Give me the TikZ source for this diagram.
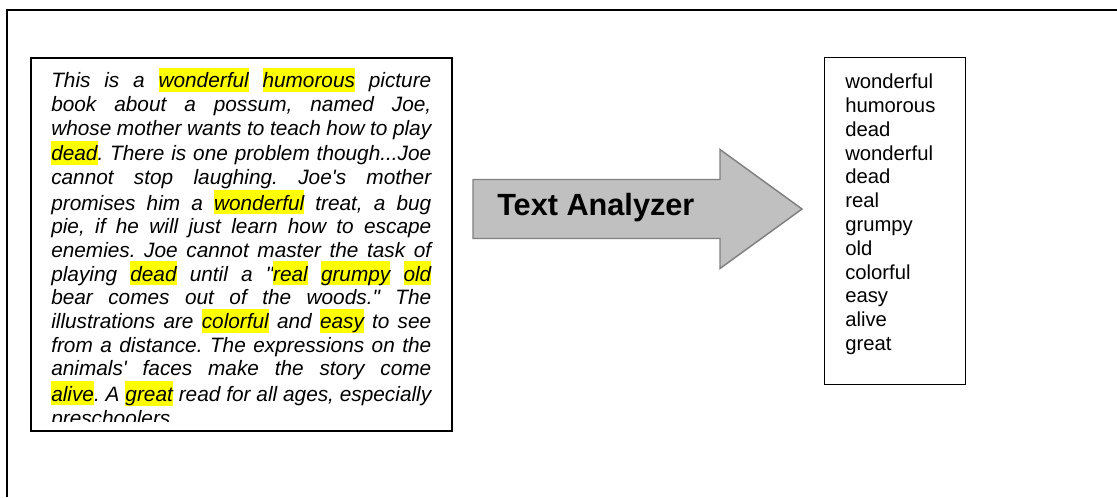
\documentclass[tikz,border=0pt]{standalone}
\usepackage{fontspec}
\setmainfont{Liberation Sans}[Ligatures=TeXOff]
\usepackage{xcolor}

\definecolor{hlyellow}{HTML}{FFFF00}
\definecolor{analyzerfill}{HTML}{C0C0C0}
\definecolor{analyzerline}{HTML}{808080}
\newcommand{\hl}[1]{{\setlength{\fboxsep}{0pt}\colorbox{hlyellow}{\rule[-3pt]{0pt}{18pt}#1}}}
\frenchspacing
\lineskiplimit=-6pt

\begin{document}
\begin{tikzpicture}[
    x=0.75pt, y=-0.75pt,
    panel/.style={rectangle, draw, line width=1.2pt, inner sep=0pt},
    review/.style={inner sep=0pt, text width=285pt, align=justify, font=\fontsize{15.6}{17.75}\selectfont\itshape},
    wordlist/.style={inner sep=0pt, align=left, font=\fontsize{15.2}{17.85}\selectfont},
    analyzerarrow/.style={fill=analyzerfill, draw=analyzerline, line width=1.1pt}
]
\useasboundingbox (0,0) rectangle (1117,497);

% outer frame
\draw[line width=1.5pt] (6.5,497) -- (6.5,10) -- (1117,10);

% review box
\node[panel, minimum width=315.75pt, minimum height=279.75pt] (reviewbox) at (241.5,244.5) {};
\begin{scope}
    \clip (31,58) rectangle (452,421);
    \node[review, anchor=north west] (reviewtext) at (51,67.6) {
        This is a \hl{wonderful} \hl{humorous} picture\linebreak
        book about a possum, named Joe,\linebreak
        whose mother wants to teach how to play\linebreak
        \hl{dead}. There is one problem though...Joe\linebreak
        cannot stop laughing. Joe's mother\linebreak
        promises him a \hl{wonderful} treat, a bug\linebreak
        pie, if he will just learn how to escape\linebreak
        enemies. Joe cannot master the task of\linebreak
        playing \hl{dead} until a "\hl{real} \hl{grumpy} \hl{old}\linebreak
        bear comes out of the woods." The\linebreak
        illustrations are \hl{colorful} and \hl{easy} to see\linebreak
        from a distance. The expressions on the\linebreak
        animals' faces make the story come\linebreak
        \hl{alive}. A \hl{great} read for all ages, especially\linebreak
        preschoolers.
    };
\end{scope}

% analyzer arrow
\filldraw[analyzerarrow] (473,179.5) -- (720,179.5) -- (720,149.5) -- (802,209)
    -- (720,268.5) -- (720,238.5) -- (473,238.5) -- cycle;
\node[anchor=base west, inner sep=0pt, font=\fontsize{23}{27}\selectfont\bfseries] (analyzer) at (497,215) {Text Analyzer};

% extracted words
\node[panel, minimum width=106pt, minimum height=245.25pt] (wordbox) at (895,220.8) {};
\node[wordlist, anchor=north west] (words) at (845,73.8) {
    wonderful\\
    humorous\\
    dead\\
    wonderful\\
    dead\\
    real\\
    grumpy\\
    old\\
    colorful\\
    easy\\
    alive\\
    great
};

\end{tikzpicture}
\end{document}
